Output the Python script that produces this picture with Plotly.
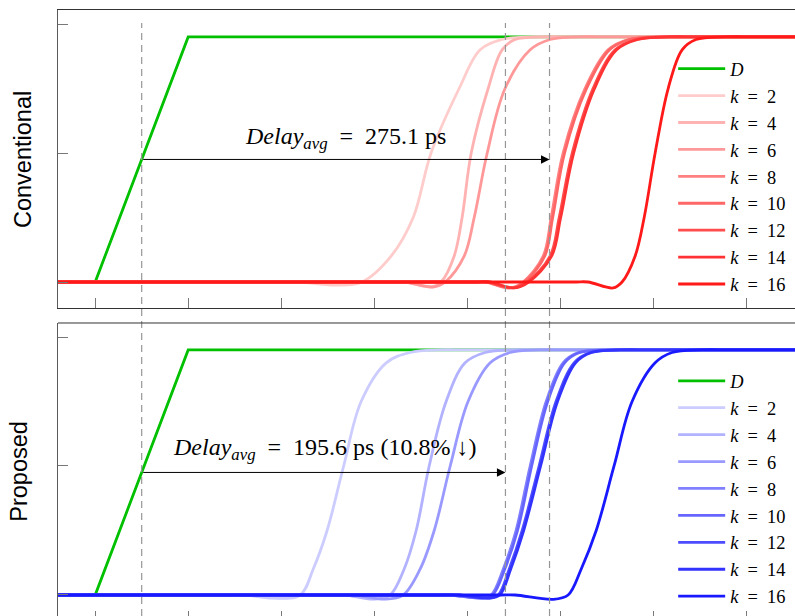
import plotly.graph_objects as go

# ---------------------------------------------------------------- data
# Time axis in ps, voltage in V.
K_VALUES = [2, 4, 6, 8, 10, 12, 14, 16]

# Input ramp D
d_time = [-20, 0, 50, 376.3]
d_volt = [0.0, 0.0, 0.95, 0.95]

# Every output waveform is sampled at the same sequence of levels:
# start, flat low, end of flat low, undershoot, foot,
# 10 %, 25 %, 50 %, 75 %, 90 %, 94 %, settled, settled, end
WAVE_LEVELS = [0.0, 0.0, 0.0, None, 0.0, 0.10, 0.25, 0.50, 0.75, 0.90, 0.94,
               0.95, 0.95, 0.95]

# Conventional (red): undershoot depth and sample times
conv_dip = [-0.012, -0.019, -0.019, -0.023, -0.023, -0.023, -0.023, -0.023]
conv_k2 = [-20, 102, 110.2, 129.0, 143.5, 159.1, 171.0, 180.6, 195.7, 207.0, 218.8, 234.9, 250, 376.3]
conv_k4 = [-20, 159, 166.7, 181.2, 186.0, 193.0, 197.3, 202.2, 211.3, 218.8, 225.8, 241.9, 257, 376.3]
conv_k6 = [-20, 159, 166.7, 182.3, 188.2, 198.4, 203.8, 210.8, 220.4, 233.9, 244.6, 260.8, 276, 376.3]
conv_k8 = [-20, 202, 209.7, 223.1, 230.1, 240.9, 245.2, 251.6, 263.4, 275.8, 286.6, 303.8, 319, 376.3]
conv_k10 = [-20, 203, 210.5, 223.9, 230.9, 241.7, 246.0, 252.4, 264.2, 276.6, 287.4, 304.6, 320, 376.3]
conv_k12 = [-20, 204, 211.3, 224.7, 232.3, 244.6, 249.5, 256.5, 267.7, 279.6, 290.9, 308.1, 323, 376.3]
conv_k14 = [-20, 205, 212.1, 225.5, 233.1, 245.4, 250.3, 257.3, 268.5, 280.4, 291.7, 308.9, 324, 376.3]
conv_k16 = [-20, 257, 265.0, 278.5, 283.3, 290.3, 295.2, 301.1, 308.1, 315.6, 323.1, 339.2, 354, 376.3]

# Proposed (blue)
prop_dip = [-0.012, -0.016, -0.016, -0.012, -0.012, -0.012, -0.012, -0.017]
prop_k2 = [-20, 73, 80.6, 95.2, 110.2, 117.2, 124.7, 133.6, 143.0, 156.5, 169.4, 185.5, 200, 376.3]
prop_k4 = [-20, 127, 134.4, 150.0, 158.6, 166.1, 172.6, 179.6, 188.7, 198.9, 209.7, 225.8, 241, 376.3]
prop_k6 = [-20, 132, 139.8, 155.9, 165.6, 174.7, 182.3, 190.9, 200.5, 212.4, 223.1, 239.2, 254, 376.3]
prop_k8 = [-20, 183, 190.9, 207.0, 212.9, 219.4, 226.3, 233.9, 242.5, 251.6, 259.7, 275.8, 291, 376.3]
prop_k10 = [-20, 184, 191.7, 207.8, 213.7, 220.2, 227.1, 234.7, 243.3, 252.4, 260.5, 276.6, 292, 376.3]
prop_k12 = [-20, 188, 195.2, 210.8, 216.7, 222.6, 229.6, 238.7, 247.8, 257.5, 266.1, 282.3, 297, 376.3]
prop_k14 = [-20, 189, 196.0, 211.6, 217.5, 223.4, 230.4, 239.5, 248.6, 258.3, 266.9, 283.1, 298, 376.3]
prop_k16 = [-20, 218, 225.8, 246.2, 254.3, 261.3, 269.4, 279.0, 288.7, 301.1, 310.2, 326.3, 341, 376.3]

conv_times = [conv_k2, conv_k4, conv_k6, conv_k8, conv_k10, conv_k12, conv_k14, conv_k16]
prop_times = [prop_k2, prop_k4, prop_k6, prop_k8, prop_k10, prop_k12, prop_k14, prop_k16]

# 50 % reference instants (ps) and measured delays
t_in_50 = 25.0
t_conv_ref = 244.3
t_prop_ref = 220.6
v_half = 0.475
conv_delay_label = "275.1"
prop_delay = 195.6
prop_gain_label = "10.8%"

X_RANGE = [-20, 376.3]
X_TICKS = [0, 50, 100, 150, 200, 250, 300, 350]
Y_TICKS = [0, 0.5, 1.0]

# ---------------------------------------------------------------- styling
GREEN = "rgb(0,192,0)"
SERIF = "Liberation Serif"
SANS = "Liberation Sans"
EQ = "\u2002=\u2002"


def tint(base, p):
    """Mix a pure colour with white, like TikZ 'red!p'."""
    w = round(255 * (1 - p))
    if base == "red":
        return f"rgb(255,{w},{w})"
    return f"rgb({w},{w},255)"


def wave(times, dip):
    volts = [dip if v is None else v for v in WAVE_LEVELS]
    return times, volts


fig = go.Figure()

panels = [
    ("x", "y", "legend", "red", conv_times, conv_dip),
    ("x2", "y2", "legend2", "blue", prop_times, prop_dip),
]
for xa, ya, leg, base, times_list, dips in panels:
    fig.add_trace(go.Scatter(
        x=d_time, y=d_volt, mode="lines", xaxis=xa, yaxis=ya, legend=leg,
        name="<i>D</i>", line=dict(color=GREEN, width=2.8)))
    for i, (k, ts, dp) in enumerate(zip(K_VALUES, times_list, dips)):
        tx, vy = wave(ts, dp)
        fig.add_trace(go.Scatter(
            x=tx, y=vy, mode="lines", xaxis=xa, yaxis=ya, legend=leg,
            name=f"<i>k</i>{EQ}{k}",
            line=dict(color=tint(base, 0.2 + 0.1 * i), width=2.8,
                      shape="spline", smoothing=1.0)))

# dashed reference lines through both panels
for t in [t_in_50, t_prop_ref, t_conv_ref]:
    fig.add_shape(type="line", xref="x", yref="paper", x0=t, x1=t,
                  y0=0, y1=0.9785, layer="above",
                  line=dict(color="rgb(150,150,150)", width=1.2, dash="7px,5px"))

# top border of the lower panel
fig.add_shape(type="line", xref="x2 domain", yref="y2 domain",
              x0=0, x1=1, y0=1, y1=1, line=dict(color="#333", width=1))

# delay arrows
for xa, ya, t_end in [("x", "y", t_conv_ref), ("x2", "y2", t_in_50 + prop_delay)]:
    fig.add_annotation(x=t_end, y=v_half, ax=t_in_50, ay=v_half,
                       xref=xa, yref=ya, axref=xa, ayref=ya, text="",
                       showarrow=True, arrowhead=2, arrowsize=1.7,
                       arrowwidth=1, arrowcolor="black", standoff=0)

fig.add_annotation(x=134.4, y=0.56, xref="x", yref="y", showarrow=False,
                   xanchor="center", yanchor="middle",
                   text=f"<i>Delay</i><sub><i>avg</i></sub>{EQ}{conv_delay_label} ps",
                   font=dict(family=SERIF, size=24, color="black"))
fig.add_annotation(x=123.1, y=0.565, xref="x2", yref="y2", showarrow=False,
                   xanchor="center", yanchor="middle",
                   text=(f"<i>Delay</i><sub><i>avg</i></sub>{EQ}{prop_delay} ps "
                         f"({prop_gain_label} \u2193)"),
                   font=dict(family=SERIF, size=24, color="black"))

# row titles
fig.add_annotation(x=-0.0475, y=0.7541, xref="paper", yref="paper",
                   xanchor="center", yanchor="middle",
                   text="Conventional", textangle=-90, showarrow=False,
                   font=dict(family=SANS, size=23.5, color="black"))
fig.add_annotation(x=-0.054, y=0.2384, xref="paper", yref="paper",
                   xanchor="center", yanchor="middle",
                   text="Proposed", textangle=-90, showarrow=False,
                   font=dict(family=SANS, size=23.5, color="black"))

axis_common = dict(range=X_RANGE, tickvals=X_TICKS, ticks="inside",
                   showticklabels=False, showgrid=False, zeroline=False,
                   tickcolor="rgb(120,120,120)", tickwidth=1)
yaxis_common = dict(tickvals=Y_TICKS, ticks="inside", ticklen=10,
                    showticklabels=False, showgrid=False, zeroline=False,
                    tickcolor="rgb(120,120,120)", tickwidth=1,
                    showline=True, linecolor="rgb(90,90,90)", linewidth=1)

legend_common = dict(font=dict(family=SERIF, size=18.4, color="black"),
                     bgcolor="rgba(0,0,0,0)", borderwidth=0,
                     itemwidth=47, xanchor="left", yanchor="top",
                     tracegroupgap=0)

fig.update_layout(
    width=795, height=616,
    margin=dict(l=58, r=0, t=10, b=0),
    paper_bgcolor="white", plot_bgcolor="white",
    xaxis=dict(**axis_common, anchor="y", domain=[0, 1], ticklen=10,
               showline=True, mirror=True, linecolor="#333", linewidth=1),
    yaxis=dict(**yaxis_common, anchor="x", domain=[0.50825, 1],
               range=[-0.1008, 1.0543]),
    xaxis2=dict(**axis_common, anchor="y2", domain=[0, 1], ticklen=5,
                showline=False),
    yaxis2=dict(**yaxis_common, anchor="x2", domain=[0, 0.4835],
                range=[-0.0814, 1.0543]),
    legend=dict(**legend_common, x=0.8347, y=0.9337),
    legend2=dict(**legend_common, x=0.8347, y=0.4186),
)

fig.write_html("out.html")
